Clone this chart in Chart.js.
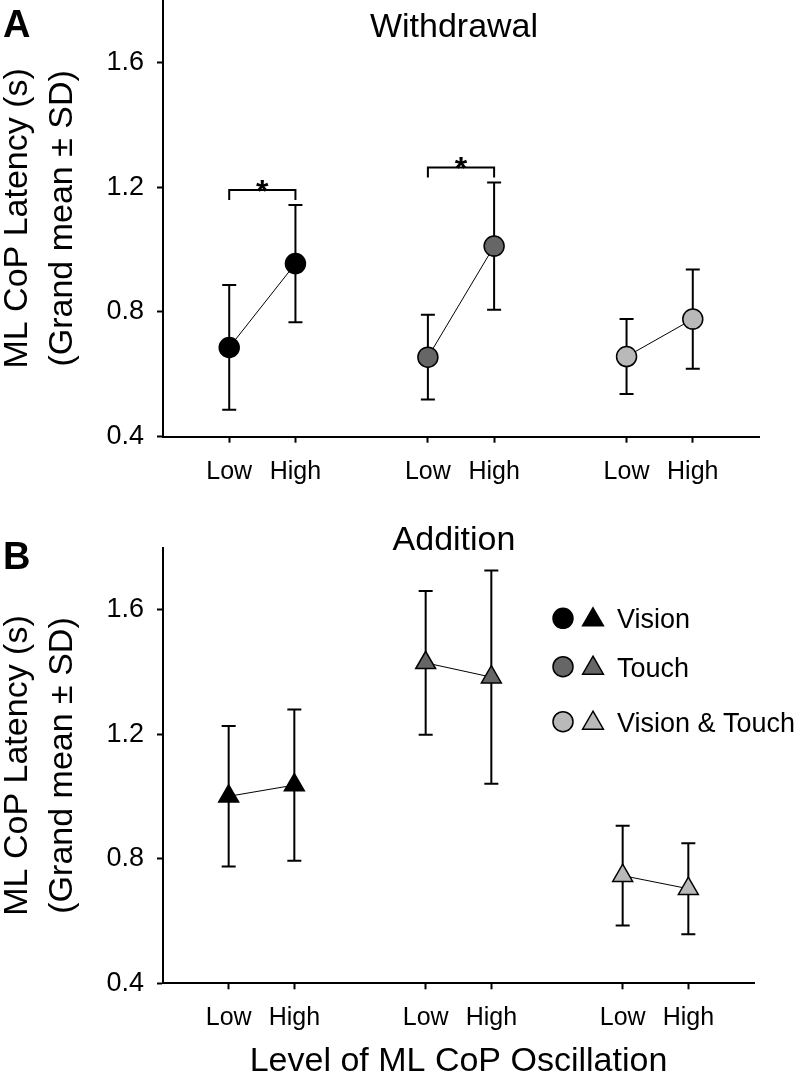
<!DOCTYPE html>
<html>
<head>
<meta charset="utf-8">
<script src="https://cdn.jsdelivr.net/npm/chart.js@4.4.1/dist/chart.umd.min.js"></script>
<style>
  html, body { margin: 0; padding: 0; background: #fff; }
  #wrap { position: relative; width: 800px; height: 1080px; overflow: hidden; }
  #chartA { position: absolute; left: 0; top: -40px; }
  #chartB { position: absolute; left: 0; top: 510px; }
</style>
</head>
<body>
<div id="wrap">
  <canvas id="chartA" width="800" height="560"></canvas>
  <canvas id="chartB" width="800" height="570"></canvas>
</div>
<script>
const conditions = ['Vision', 'Touch', 'Vision & Touch'];
const levels = ['Low', 'High'];
const xLabels = ['Low', 'High', 'Low', 'High', 'Low', 'High'];
const yTicks = [0.4, 0.8, 1.2, 1.6];

// grand mean and SD (s), order: Vision Low/High, Touch Low/High, V&T Low/High
const withdrawalMean = [0.686, 0.955, 0.655, 1.011, 0.657, 0.777];
const withdrawalSD = [0.200, 0.188, 0.136, 0.204, 0.120, 0.159];
const additionMean = [1.001, 1.037, 1.430, 1.384, 0.746, 0.704];
const additionSD = [0.226, 0.243, 0.231, 0.343, 0.160, 0.146];
const withdrawalSig = [[0, 1], [2, 3]];

const fills = ['#000000', '#666666', '#b9b9b9'];
const FONT = '"Liberation Sans", Arial, sans-serif';

Chart.defaults.font.family = FONT;
Chart.defaults.color = '#000';

// Low/High pairs sit at 1,2 / 4,5 / 7,8 on a 0..9 axis
function xPos(i) {
    return Math.floor(i / 2) * 3 + (i % 2) + 1;
}

function buildDatasets(mean, sd, style, radius) {
    return conditions.map((name, g) => ({
        label: name,
        data: levels.map((_, k) => ({ x: xPos(2 * g + k), y: mean[2 * g + k] })),
        sd: levels.map((_, k) => sd[2 * g + k]),
        showLine: true,
        borderColor: '#000',
        borderWidth: 1,
        pointStyle: style,
        pointRadius: radius,
        pointHoverRadius: radius,
        pointBackgroundColor: fills[g],
        pointBorderColor: '#000',
        pointBorderWidth: 1.5,
        clip: false
    }));
}

const errorBars = {
    id: 'errorBars',
    beforeDatasetsDraw(chart) {
        const { ctx, scales: { x, y } } = chart;
        ctx.save();
        ctx.strokeStyle = '#000';
        ctx.lineWidth = 2;
        chart.data.datasets.forEach(ds => {
            ds.data.forEach((p, k) => {
                const px = x.getPixelForValue(p.x);
                const top = y.getPixelForValue(p.y + ds.sd[k]);
                const bot = y.getPixelForValue(p.y - ds.sd[k]);
                ctx.beginPath();
                ctx.moveTo(px, top); ctx.lineTo(px, bot);
                ctx.moveTo(px - 7, top); ctx.lineTo(px + 7, top);
                ctx.moveTo(px - 7, bot); ctx.lineTo(px + 7, bot);
                ctx.stroke();
            });
        });
        ctx.restore();
    }
};

const sigBrackets = {
    id: 'sigBrackets',
    afterDatasetsDraw(chart, args, opts) {
        if (!opts.pairs) return;
        const { ctx, scales: { x, y } } = chart;
        ctx.save();
        ctx.strokeStyle = '#000';
        ctx.fillStyle = '#000';
        ctx.lineWidth = 2;
        opts.pairs.forEach(pair => {
            const pts = pair.map(i => {
                const ds = chart.data.datasets[Math.floor(i / 2)];
                const p = ds.data[i % 2];
                return { px: x.getPixelForValue(p.x), top: y.getPixelForValue(p.y + ds.sd[i % 2]) };
            });
            const by = Math.min(pts[0].top, pts[1].top) - 15;
            ctx.beginPath();
            ctx.moveTo(pts[0].px, by + 10);
            ctx.lineTo(pts[0].px, by);
            ctx.lineTo(pts[1].px, by);
            ctx.lineTo(pts[1].px, by + 10);
            ctx.stroke();
            ctx.font = 'bold 32px ' + FONT;
            ctx.textAlign = 'center';
            ctx.textBaseline = 'alphabetic';
            ctx.fillText('*', (pts[0].px + pts[1].px) / 2, by + 12);
        });
        ctx.restore();
    }
};

const panelText = {
    id: 'panelText',
    afterDraw(chart, args, opts) {
        const ctx = chart.ctx;
        ctx.save();
        ctx.fillStyle = '#000';
        ctx.textBaseline = 'alphabetic';
        ctx.textAlign = 'left';
        ctx.font = 'bold 38px ' + FONT;
        ctx.fillText(opts.letter, 3, opts.letterY);
        ctx.textAlign = 'center';
        ctx.font = '34px ' + FONT;
        ctx.fillText(opts.title, 454, opts.titleY);
        ctx.restore();
    }
};

// legend with a circle (withdrawal) and a triangle (addition) per condition
const dualLegend = {
    id: 'dualLegend',
    afterDraw(chart, args, opts) {
        if (!opts.rows) return;
        const ctx = chart.ctx;
        ctx.save();
        ctx.strokeStyle = '#000';
        ctx.lineWidth = 1.5;
        conditions.forEach((name, g) => {
            const yy = opts.rows[g];
            ctx.fillStyle = fills[g];
            Chart.helpers.drawPoint(ctx, { pointStyle: 'circle', radius: 10, borderWidth: 1.5, rotation: 0 }, 563, yy);
            ctx.fillStyle = fills[g];
            Chart.helpers.drawPoint(ctx, { pointStyle: 'triangle', radius: 12, borderWidth: 1.5, rotation: 0 }, 593, yy + 1.5);
            ctx.fillStyle = '#000';
            ctx.font = '27px ' + FONT;
            ctx.textAlign = 'left';
            ctx.textBaseline = 'alphabetic';
            ctx.fillText(name, 617, yy + 10);
        });
        ctx.restore();
    }
};

function makeOptions(cfg) {
    return {
        responsive: false,
        animation: false,
        events: [],
        layout: { autoPadding: false, padding: cfg.padding },
        plugins: {
            legend: { display: false },
            tooltip: { enabled: false },
            panelText: cfg.text,
            sigBrackets: { pairs: cfg.sig },
            dualLegend: { rows: cfg.legendRows }
        },
        scales: {
            x: {
                type: 'linear',
                min: 0,
                max: 9,
                afterBuildTicks: s => { s.ticks = xLabels.map((_, i) => ({ value: xPos(i) })); },
                afterFit: s => { s.height = cfg.xHeight; },
                ticks: {
                    autoSkip: false,
                    maxRotation: 0,
                    padding: 14,
                    font: { size: 25 },
                    callback: (v, i) => xLabels[i]
                },
                grid: { drawOnChartArea: false, drawTicks: true, tickLength: 6, tickColor: '#000', tickWidth: 2 },
                border: { display: true, color: '#000', width: 2 },
                title: cfg.xTitle ? {
                    display: true,
                    text: cfg.xTitle,
                    font: { size: 34 },
                    padding: { top: 0, bottom: -2.5 }
                } : { display: false }
            },
            y: {
                min: 0.4,
                max: 1.8,
                afterBuildTicks: s => { s.ticks = yTicks.map(v => ({ value: v })); },
                afterFit: s => { s.width = 163; },
                ticks: {
                    padding: 13,
                    font: { size: 27 },
                    callback: v => v.toFixed(1)
                },
                grid: { drawOnChartArea: false, drawTicks: true, tickLength: 6, tickColor: '#000', tickWidth: 2 },
                border: { display: true, color: '#000', width: 2 },
                title: {
                    display: true,
                    text: ['ML CoP Latency (s)', '(Grand mean \u00b1 SD)'],
                    font: { size: 34, lineHeight: 1.32 },
                    padding: { top: -5, bottom: 0 }
                }
            }
        }
    };
}

new Chart(document.getElementById('chartA'), {
    type: 'line',
    data: { datasets: buildDatasets(withdrawalMean, withdrawalSD, 'circle', 10) },
    options: makeOptions({
        padding: { left: 0, right: 41, top: 40, bottom: 0 },
        xHeight: 83.3,
        text: { letter: 'A', letterY: 77, title: 'Withdrawal', titleY: 77 },
        sig: withdrawalSig
    }),
    plugins: [errorBars, sigBrackets, panelText, dualLegend]
});

new Chart(document.getElementById('chartB'), {
    type: 'line',
    data: { datasets: buildDatasets(additionMean, additionSD, 'triangle', 11.5) },
    options: makeOptions({
        padding: { left: 0, right: 46, top: 37.7, bottom: 0 },
        xHeight: 96.7,
        xTitle: 'Level of ML CoP Oscillation',
        text: { letter: 'B', letterY: 58.5, title: 'Addition', titleY: 40 },
        legendRows: [108.3, 156.7, 211.7]
    }),
    plugins: [errorBars, sigBrackets, panelText, dualLegend]
});
</script>
</body>
</html>
